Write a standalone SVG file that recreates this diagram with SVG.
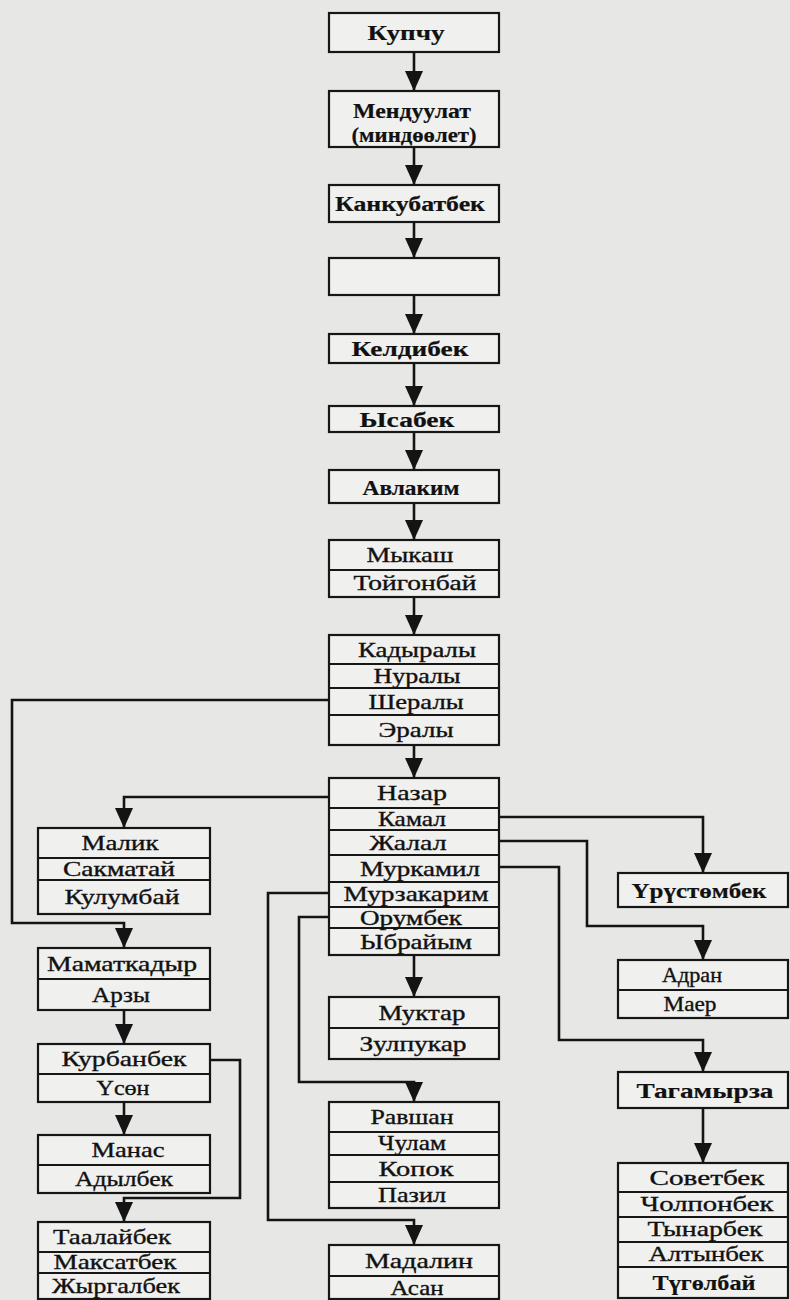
<svg xmlns="http://www.w3.org/2000/svg" width="790" height="1300" viewBox="0 0 790 1300">
<style>
.bg{fill:#e7e7e5}
.box{fill:#f0f0ee;stroke:#161616;stroke-width:2.2}
.dv{stroke:#161616;stroke-width:2}
.c{fill:none;stroke:#141414;stroke-width:2.6}
text{font-family:"Liberation Serif","DejaVu Serif",serif;font-size:21px;fill:#111;text-anchor:middle;stroke:#111;stroke-width:0.35}
.b{font-weight:bold;font-size:22px;stroke-width:0.2}
</style>
<defs>
<marker id="ah" markerWidth="20" markerHeight="18" refX="19" refY="9" orient="auto" markerUnits="userSpaceOnUse"><path d="M0,0 L20,9 L0,18 z" fill="#141414"/></marker>
</defs>
<rect class="bg" x="0" y="0" width="790" height="1300"/>
<g id="connectors">
<path class="c" d="M414,52 V90" marker-end="url(#ah)"/>
<path class="c" d="M414,147 V184" marker-end="url(#ah)"/>
<path class="c" d="M414,222 V257" marker-end="url(#ah)"/>
<path class="c" d="M414,295 V333" marker-end="url(#ah)"/>
<path class="c" d="M414,363 V405" marker-end="url(#ah)"/>
<path class="c" d="M414,432 V469" marker-end="url(#ah)"/>
<path class="c" d="M414,503 V539" marker-end="url(#ah)"/>
<path class="c" d="M414,597 V634" marker-end="url(#ah)"/>
<path class="c" d="M414,745 V777" marker-end="url(#ah)"/>
<path class="c" d="M329,700 H12 V923 H124 V947" marker-end="url(#ah)"/>
<path class="c" d="M329,797 H124 V827" marker-end="url(#ah)"/>
<path class="c" d="M499,817 H703 V872" marker-end="url(#ah)"/>
<path class="c" d="M499,841 H587 V926 H703 V959" marker-end="url(#ah)"/>
<path class="c" d="M499,867 H559 V1040 H703 V1071" marker-end="url(#ah)"/>
<path class="c" d="M703,1108 V1162" marker-end="url(#ah)"/>
<path class="c" d="M329,893 H268 V1220 H414 V1244" marker-end="url(#ah)"/>
<path class="c" d="M329,917 H299 V1082 H414 V1101" marker-end="url(#ah)"/>
<path class="c" d="M414,955 V996" marker-end="url(#ah)"/>
<path class="c" d="M124,1010 V1043" marker-end="url(#ah)"/>
<path class="c" d="M124,1102 V1134" marker-end="url(#ah)"/>
<path class="c" d="M210,1060 H240 V1198 H124 V1221" marker-end="url(#ah)"/>
</g>
<g id="n-kupchu"><rect class="box" x="329" y="13" width="170" height="39"/><text class="b" x="406" y="40" textLength="77" lengthAdjust="spacingAndGlyphs">Купчу</text></g>
<g id="n-menduulat"><rect class="box" x="329" y="91" width="170" height="56"/><text class="b" x="412" y="118" textLength="118" lengthAdjust="spacingAndGlyphs">Мендуулат</text><text class="b" x="414" y="142" textLength="125" lengthAdjust="spacingAndGlyphs">(миндөөлет)</text></g>
<g id="n-kankubatbek"><rect class="box" x="329" y="185" width="170" height="37"/><text class="b" x="410" y="211" textLength="150" lengthAdjust="spacingAndGlyphs">Канкубатбек</text></g>
<g id="n-empty"><rect class="box" x="329" y="258" width="170" height="37"/></g>
<g id="n-keldibek"><rect class="box" x="329" y="334" width="170" height="29"/><text class="b" x="410" y="356" textLength="117" lengthAdjust="spacingAndGlyphs">Келдибек</text></g>
<g id="n-ysabek"><rect class="box" x="329" y="406" width="170" height="26"/><text class="b" x="407" y="427" textLength="95" lengthAdjust="spacingAndGlyphs">Ысабек</text></g>
<g id="n-avlakim"><rect class="box" x="329" y="470" width="170" height="33"/><text class="b" x="411" y="495" textLength="97" lengthAdjust="spacingAndGlyphs">Авлаким</text></g>
<g id="n-mykash"><rect class="box" x="329" y="540" width="170" height="57"/><line class="dv" x1="329" y1="570" x2="499" y2="570"/><text x="410" y="562" textLength="87" lengthAdjust="spacingAndGlyphs">Мыкаш</text><text x="415" y="590" textLength="123" lengthAdjust="spacingAndGlyphs">Тойгонбай</text></g>
<g id="n-kadyraly"><rect class="box" x="329" y="635" width="170" height="110"/><line class="dv" x1="329" y1="664" x2="499" y2="664"/><line class="dv" x1="329" y1="688" x2="499" y2="688"/><line class="dv" x1="329" y1="715" x2="499" y2="715"/><text x="417" y="657" textLength="118" lengthAdjust="spacingAndGlyphs">Кадыралы</text><text x="417" y="683" textLength="87" lengthAdjust="spacingAndGlyphs">Нуралы</text><text x="416" y="709" textLength="95" lengthAdjust="spacingAndGlyphs">Шералы</text><text x="416" y="737" textLength="75" lengthAdjust="spacingAndGlyphs">Эралы</text></g>
<g id="n-nazar"><rect class="box" x="329" y="778" width="170" height="177"/><line class="dv" x1="329" y1="808" x2="499" y2="808"/><line class="dv" x1="329" y1="830" x2="499" y2="830"/><line class="dv" x1="329" y1="855" x2="499" y2="855"/><line class="dv" x1="329" y1="882" x2="499" y2="882"/><line class="dv" x1="329" y1="907" x2="499" y2="907"/><line class="dv" x1="329" y1="928" x2="499" y2="928"/><text x="412" y="800" textLength="70" lengthAdjust="spacingAndGlyphs">Назар</text><text x="412" y="826" textLength="68" lengthAdjust="spacingAndGlyphs">Камал</text><text x="408" y="850" textLength="77" lengthAdjust="spacingAndGlyphs">Жалал</text><text x="420" y="876" textLength="120" lengthAdjust="spacingAndGlyphs">Муркамил</text><text x="416" y="901" textLength="145" lengthAdjust="spacingAndGlyphs">Мурзакарим</text><text x="411" y="925" textLength="102" lengthAdjust="spacingAndGlyphs">Орумбек</text><text x="416" y="949" textLength="112" lengthAdjust="spacingAndGlyphs">Ыбрайым</text></g>
<g id="n-malik"><rect class="box" x="38" y="828" width="172" height="86"/><line class="dv" x1="38" y1="858" x2="210" y2="858"/><line class="dv" x1="38" y1="880" x2="210" y2="880"/><text x="120" y="850" textLength="77" lengthAdjust="spacingAndGlyphs">Малик</text><text x="119" y="876" textLength="112" lengthAdjust="spacingAndGlyphs">Сакматай</text><text x="122" y="904" textLength="115" lengthAdjust="spacingAndGlyphs">Кулумбай</text></g>
<g id="n-mamatkadyr"><rect class="box" x="38" y="948" width="172" height="62"/><line class="dv" x1="38" y1="979" x2="210" y2="979"/><text x="122" y="971" textLength="150" lengthAdjust="spacingAndGlyphs">Маматкадыр</text><text x="121" y="1002" textLength="58" lengthAdjust="spacingAndGlyphs">Арзы</text></g>
<g id="n-kurbanbek"><rect class="box" x="38" y="1044" width="172" height="58"/><line class="dv" x1="38" y1="1074" x2="210" y2="1074"/><text x="124" y="1066" textLength="125" lengthAdjust="spacingAndGlyphs">Курбанбек</text><text x="123" y="1095" textLength="53" lengthAdjust="spacingAndGlyphs">Үсөн</text></g>
<g id="n-manas"><rect class="box" x="38" y="1135" width="172" height="58"/><line class="dv" x1="38" y1="1165" x2="210" y2="1165"/><text x="128" y="1157" textLength="73" lengthAdjust="spacingAndGlyphs">Манас</text><text x="124" y="1186" textLength="98" lengthAdjust="spacingAndGlyphs">Адылбек</text></g>
<g id="n-taalaibek"><rect class="box" x="38" y="1222" width="172" height="77"/><line class="dv" x1="38" y1="1252" x2="210" y2="1252"/><line class="dv" x1="38" y1="1273" x2="210" y2="1273"/><text x="112" y="1244" textLength="118" lengthAdjust="spacingAndGlyphs">Таалайбек</text><text x="115" y="1269" textLength="123" lengthAdjust="spacingAndGlyphs">Максатбек</text><text x="116" y="1293" textLength="128" lengthAdjust="spacingAndGlyphs">Жыргалбек</text></g>
<g id="n-muktar"><rect class="box" x="329" y="997" width="170" height="62"/><line class="dv" x1="329" y1="1028" x2="499" y2="1028"/><text x="422" y="1020" textLength="87" lengthAdjust="spacingAndGlyphs">Муктар</text><text x="413" y="1051" textLength="107" lengthAdjust="spacingAndGlyphs">Зулпукар</text></g>
<g id="n-ravshan"><rect class="box" x="329" y="1102" width="170" height="106"/><line class="dv" x1="329" y1="1132" x2="499" y2="1132"/><line class="dv" x1="329" y1="1155" x2="499" y2="1155"/><line class="dv" x1="329" y1="1182" x2="499" y2="1182"/><text x="412" y="1124" textLength="83" lengthAdjust="spacingAndGlyphs">Равшан</text><text x="412" y="1150" textLength="68" lengthAdjust="spacingAndGlyphs">Чулам</text><text x="416" y="1176" textLength="75" lengthAdjust="spacingAndGlyphs">Копок</text><text x="412" y="1202" textLength="68" lengthAdjust="spacingAndGlyphs">Пазил</text></g>
<g id="n-madalin"><rect class="box" x="329" y="1245" width="170" height="54"/><line class="dv" x1="329" y1="1276" x2="499" y2="1276"/><text x="419" y="1268" textLength="108" lengthAdjust="spacingAndGlyphs">Мадалин</text><text x="417" y="1295" textLength="53" lengthAdjust="spacingAndGlyphs">Асан</text></g>
<g id="n-urustombek"><rect class="box" x="618" y="873" width="170" height="34"/><text class="b" x="699" y="898" textLength="135" lengthAdjust="spacingAndGlyphs">Үрүстөмбек</text></g>
<g id="n-adran"><rect class="box" x="618" y="960" width="170" height="58"/><line class="dv" x1="618" y1="990" x2="788" y2="990"/><text x="692" y="982" textLength="60" lengthAdjust="spacingAndGlyphs">Адран</text><text x="690" y="1011" textLength="53" lengthAdjust="spacingAndGlyphs">Маер</text></g>
<g id="n-tagamyrza"><rect class="box" x="618" y="1072" width="170" height="36"/><text class="b" x="705" y="1098" textLength="137" lengthAdjust="spacingAndGlyphs">Тагамырза</text></g>
<g id="n-sovetbek"><rect class="box" x="618" y="1163" width="170" height="135"/><line class="dv" x1="618" y1="1192" x2="788" y2="1192"/><line class="dv" x1="618" y1="1217" x2="788" y2="1217"/><line class="dv" x1="618" y1="1242" x2="788" y2="1242"/><line class="dv" x1="618" y1="1267" x2="788" y2="1267"/><text x="707" y="1185" textLength="115" lengthAdjust="spacingAndGlyphs">Советбек</text><text x="707" y="1211" textLength="133" lengthAdjust="spacingAndGlyphs">Чолпонбек</text><text x="705" y="1236" textLength="115" lengthAdjust="spacingAndGlyphs">Тынарбек</text><text x="706" y="1261" textLength="115" lengthAdjust="spacingAndGlyphs">Алтынбек</text><text class="b" x="704" y="1290" textLength="103" lengthAdjust="spacingAndGlyphs">Түгөлбай</text></g>
</svg>
